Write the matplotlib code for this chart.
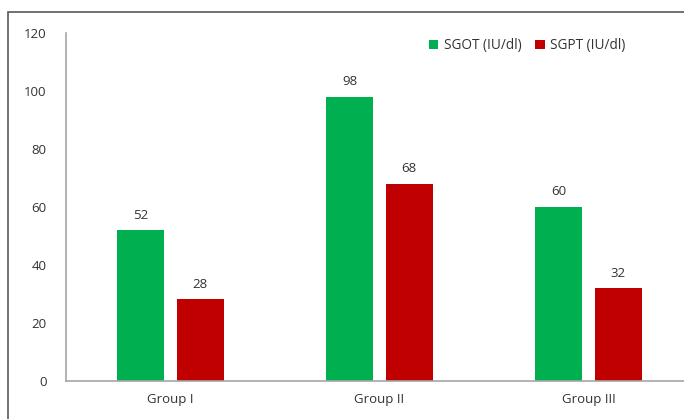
import numpy as np
import matplotlib
matplotlib.use("Agg")
import matplotlib.pyplot as plt
from matplotlib.patches import Rectangle

groups = ["Group I", "Group II", "Group III"]
sgot = [52, 98, 60]
sgpt = [28, 68, 32]

plt.rcParams['font.family'] = ['Open Sans', 'DejaVu Sans']

fig = plt.figure(figsize=(6.84, 4.19), dpi=100)
W, H = 684, 419
ax = fig.add_axes([66 / W, 1 - 380.5 / H, 627 / W, 347.5 / H])

x = np.arange(len(groups))
w = 0.225
b1 = ax.bar(x - 0.142, sgot, w, color="#00B050", label="SGOT (IU/dl)")
b2 = ax.bar(x + 0.142, sgpt, w, color="#C00000", label="SGPT (IU/dl)")

for bars in (b1, b2):
    for r in bars:
        ax.annotate(f"{r.get_height():g}", (r.get_x() + r.get_width() / 2, r.get_height()),
                    xytext=(0, 6), textcoords="offset points", ha="center", va="bottom",
                    fontsize=9.5, color="#333333")

ax.set_xlim(-0.5, 2.5)
ax.set_ylim(0, 120)
ax.set_yticks(range(0, 121, 20))
ax.set_xticks(x)
ax.set_xticklabels(groups)
ax.tick_params(length=0, labelsize=9.5, colors="#333333")
ax.tick_params(axis="y", pad=14)
ax.tick_params(axis="x", pad=9)
for s in ("top", "right"):
    ax.spines[s].set_visible(False)
for s in ("left", "bottom"):
    ax.spines[s].set_color("#A6A6A6")
    ax.spines[s].set_linewidth(1.2)

ax.legend(loc="upper left", bbox_to_anchor=(0.57, 1.0), ncol=2, frameon=False,
          fontsize=9.8, handlelength=0.7, handleheight=0.7, handletextpad=0.4,
          columnspacing=1.0, borderaxespad=0)
for t in ax.get_legend().get_texts():
    t.set_color("#333333")

# outer chart border
fig.patches.append(Rectangle((8 / W, -0.1), 1.0, 1 - 12 / H + 0.1, transform=fig.transFigure,
                             fill=False, edgecolor="#595959", linewidth=1.2))

fig.savefig("out.png", dpi=100)
